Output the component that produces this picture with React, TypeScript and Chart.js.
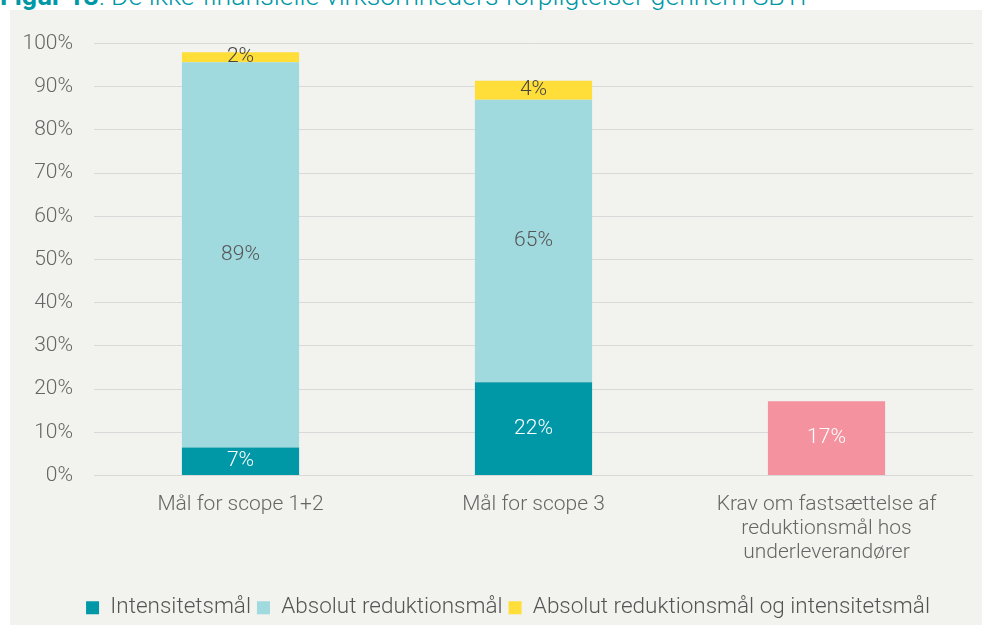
import React, { useEffect, useRef } from "react";
import { Chart, registerables } from "chart.js";

Chart.register(...registerables);

const categories: (string | string[])[] = [
  "Mål for scope 1+2",
  "Mål for scope 3",
  ["Krav om fastsættelse af", "reduktionsmål hos", "underleverandører"],
];
const intensitet = [6.5, 21.6, null];
const absolut = [89.2, 65.4, null];
const begge = [2.3, 4.4, null];
const krav = [null, null, 17.2];
const yTicks = [0, 10, 20, 30, 40, 50, 60, 70, 80, 90, 100];

const FONT = "Roboto, 'Noto Sans', sans-serif";

const labelPlugin = {
  id: "segLabels",
  afterDatasetsDraw(chart: any) {
    const ctx = chart.ctx;
    const colors = ["#ffffff", "#555555", "#444444", "#ffffff"];
    chart.data.datasets.forEach((ds: any, di: number) => {
      const meta = chart.getDatasetMeta(di);
      meta.data.forEach((el: any, i: number) => {
        const v = ds.data[i];
        if (v == null) return;
        ctx.save();
        ctx.font = `300 21px ${FONT}`;
        ctx.fillStyle = colors[di];
        ctx.textAlign = "center";
        ctx.textBaseline = "middle";
        ctx.fillText(Math.round(v) + "%", el.x, (el.y + el.base) / 2);
        ctx.restore();
      });
    });
  },
};

const legendShift = {
  id: "legendShift",
  afterLayout(chart: any) {
    if (chart.legend) chart.legend.left += 23;
  },
};

export default function App() {
  const ref = useRef<HTMLCanvasElement>(null);
  useEffect(() => {
    const chart = new Chart(ref.current!, {
      type: "bar",
      data: {
        labels: categories,
        datasets: [
          { label: "Intensitetsmål", data: intensitet, backgroundColor: "#0098A6" },
          { label: "Absolut reduktionsmål", data: absolut, backgroundColor: "#A0D9DE" },
          { label: "Absolut reduktionsmål og intensitetsmål", data: begge, backgroundColor: "#FFDE3A" },
          { label: "Krav", data: krav, backgroundColor: "#F4929F" },
        ],
      },
      options: {
        animation: false,
        responsive: false,
        maintainAspectRatio: false,
        datasets: { bar: { categoryPercentage: 0.8, barPercentage: 0.5 } },
        layout: { padding: { left: 10, right: 9, top: 33, bottom: -4 } },
        plugins: {
          tooltip: { enabled: false },
          legend: {
            position: "bottom",
            labels: {
              filter: (item: any) => item.datasetIndex < 3,
              boxWidth: 13,
              boxHeight: 13,
              padding: 6,
              color: "#555555",
              font: { family: FONT, size: 22.5, weight: "300" as any },
            },
          },
        },
        scales: {
          x: {
            stacked: true,
            grid: { display: false },
            border: { display: false },
            ticks: {
              color: "#666666",
              padding: 9,
              maxRotation: 0,
              font: { family: FONT, size: 21, weight: "300" as any, lineHeight: 1.15 },
            },
            afterFit: (s: any) => {
              s.height = 115;
            },
          },
          y: {
            stacked: true,
            min: 0,
            max: 100,
            afterBuildTicks: (s: any) => {
              s.ticks = yTicks.map((v) => ({ value: v }));
            },
            grid: { color: "#D9D9D9", lineWidth: 1, drawTicks: false },
            border: { display: false },
            ticks: {
              color: "#666666",
              padding: 21,
              font: { family: FONT, size: 21, weight: "300" as any },
              callback: (v: any) => v + "%",
            },
            afterFit: (s: any) => {
              s.width = 74;
            },
          },
        },
      },
      plugins: [labelPlugin, legendShift],
    });
    return () => chart.destroy();
  }, []);

  return (
    <div
      style={{
        position: "fixed",
        left: 0,
        top: 0,
        width: 982,
        height: 625,
        background: "#ffffff",
        overflow: "hidden",
      }}
    >
      <div
        style={{
          position: "absolute",
          left: 0,
          top: -17,
          fontFamily: FONT,
          fontSize: 26.7,
          lineHeight: "27px",
          color: "#0098A6",
          whiteSpace: "nowrap",
          fontWeight: 300,
        }}
      >
        <b style={{ fontWeight: 700 }}>Figur 13</b>: De ikke-finansielle virksomheders forpligtelser gennem SBTi
      </div>
      <div
        style={{
          position: "absolute",
          left: 10,
          top: 10,
          width: 972,
          height: 615,
          background: "#F2F2EE",
        }}
      >
        <canvas ref={ref} width={972} height={615} style={{ display: "block" }} />
      </div>
    </div>
  );
}
